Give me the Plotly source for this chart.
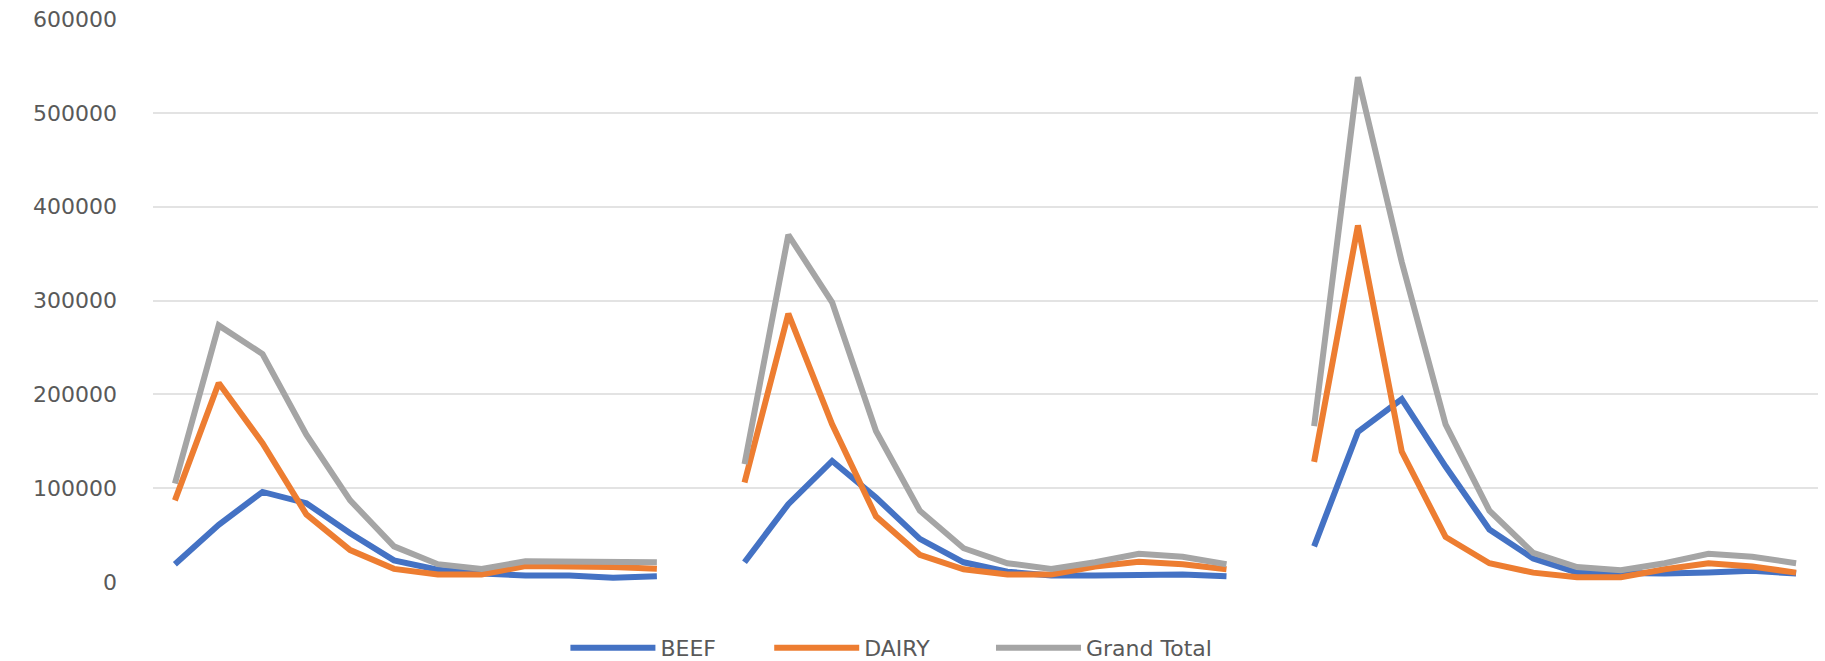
import plotly.graph_objects as go

# Three periods, 12 points each; a blank category separates the periods
beef_p1 = [19000, 61000, 96000, 84000, 52000, 23000, 13000, 9000, 7000, 7000, 4500, 6000]
beef_p2 = [21000, 83000, 129000, 90000, 46000, 21000, 11000, 7000, 7000, 8000, 8000, 6000]
beef_p3 = [38000, 160000, 195000, 123000, 56000, 25000, 10000, 9000, 9000, 10000, 12000, 9000]

dairy_p1 = [87000, 212000, 148000, 72000, 34000, 14000, 8000, 8000, 17000, 17000, 16000, 14000]
dairy_p2 = [106000, 286000, 168000, 70000, 29000, 13500, 8000, 8000, 16500, 21500, 19000, 13500]
dairy_p3 = [128000, 380000, 139000, 48000, 20000, 10000, 5000, 5000, 13500, 20000, 16500, 10000]

total_p1 = [105000, 273500, 243000, 157000, 87000, 38000, 19000, 14000, 22000, 22000, 21000, 21000]
total_p2 = [125600, 370000, 298000, 161000, 76000, 36000, 20000, 14000, 21000, 30000, 27000, 19000]
total_p3 = [166000, 538000, 341000, 168000, 76000, 31000, 16000, 12500, 20000, 30000, 27000, 20000]

series_names = ["BEEF", "DAIRY", "Grand Total"]
series_colors = ["#4472C4", "#ED7D31", "#A5A5A5"]
y_ticks = [0, 100000, 200000, 300000, 400000, 500000, 600000]


def join_periods(*periods):
    xs, ys = [], []
    pos = 0
    for i, p in enumerate(periods):
        if i > 0:
            xs.append(pos)
            ys.append(None)
            pos += 1
        for v in p:
            xs.append(pos)
            ys.append(v)
            pos += 1
    return xs, ys


data = [
    join_periods(beef_p1, beef_p2, beef_p3),
    join_periods(dairy_p1, dairy_p2, dairy_p3),
    join_periods(total_p1, total_p2, total_p3),
]
n_cat = data[0][0][-1] + 1

legend_ids = ["legend", "legend2", "legend3"]
legend_x = [0.2477, 0.3701, 0.5033]

fig = go.Figure()
for (xs, ys), name, color, lg in zip(data, series_names, series_colors, legend_ids):
    fig.add_trace(go.Scatter(
        x=xs, y=ys, name=name, mode="lines",
        line=dict(color=color, width=6),
        connectgaps=False, legend=lg,
    ))

legend_common = dict(orientation="h", xanchor="left", y=-0.117, yanchor="middle",
                     font=dict(size=22, color="#595959"), itemwidth=85,
                     bgcolor="rgba(0,0,0,0)")

fig.update_layout(
    width=1825, height=661,
    paper_bgcolor="white", plot_bgcolor="white",
    margin=dict(l=153, r=7, t=19, b=79, autoexpand=False),
    font=dict(family="DejaVu Sans", color="#595959", size=22),
    xaxis=dict(range=[-0.5, n_cat - 0.5], showticklabels=False, showgrid=False,
               zeroline=False, showline=False, ticks="", automargin=False),
    yaxis=dict(range=[0, 600000], tickvals=y_ticks,
               ticktext=[str(v) for v in y_ticks],
               showgrid=True, gridcolor="#E3E3E3", gridwidth=2,
               zeroline=False, showline=False, ticks="", automargin=False,
               ticklabelstandoff=35,
               tickfont=dict(size=22, color="#595959")),
    showlegend=True,
    legend=dict(x=legend_x[0], **legend_common),
    legend2=dict(x=legend_x[1], **legend_common),
    legend3=dict(x=legend_x[2], **legend_common),
)

fig.write_html(
    "out.html",
    config={"displayModeBar": False},
    post_script="document.body.style.margin='0';document.body.style.overflow='hidden';",
)
